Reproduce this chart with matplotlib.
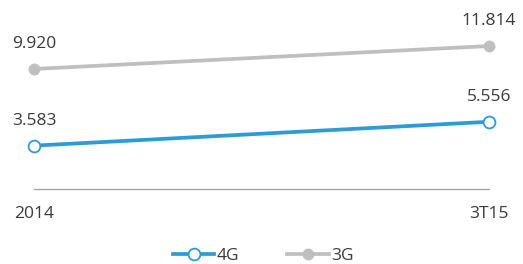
import matplotlib
matplotlib.use("Agg")
import matplotlib.pyplot as plt
from matplotlib.lines import Line2D

categories = ["2014", "3T15"]
series_4g = [3.583, 5.556]
series_3g = [9.920, 11.814]
labels_4g = ["3.583", "5.556"]
labels_3g = ["9.920", "11.814"]

plt.rcParams['font.family'] = ['Open Sans', 'DejaVu Sans']
W, H = 523, 264
fig = plt.figure(figsize=(W/100, H/100), dpi=100)
scale = 12.1
top_px = 189 - 14*scale
ax = fig.add_axes([34/W, 1-189/H, (489-34)/W, (189-top_px)/H])
ax.set_xlim(0, 1)
ax.set_ylim(0, 14)
x = [0, 1]
blue = '#2E9BD6'
gray = '#BFBFBF'
txt = '#3A3A3A'
fs = 12.5

ax.plot(x, series_3g, color=gray, lw=2.7, marker='o', ms=7.5, mfc=gray, mec=gray, clip_on=False, zorder=3, solid_capstyle='butt')
ax.plot(x, series_4g, color=blue, lw=2.7, marker='o', ms=8.5, mfc='white', mec=blue, mew=1.3, clip_on=False, zorder=4, solid_capstyle='butt')

for xi, v, l in zip(x, series_3g, labels_3g):
    ax.annotate(l, (xi, v), xytext=(0, 12), textcoords='offset points', ha='center', va='bottom', fontsize=fs, color=txt)
for xi, v, l in zip(x, series_4g, labels_4g):
    ax.annotate(l, (xi, v), xytext=(0, 12), textcoords='offset points', ha='center', va='bottom', fontsize=fs, color=txt)

for s in ['top', 'right', 'left']:
    ax.spines[s].set_visible(False)
ax.spines['bottom'].set_color('#A6A6A6')
ax.spines['bottom'].set_linewidth(1.0)
ax.set_yticks([])
ax.set_xticks(x)
ax.set_xticklabels(categories, fontsize=fs, color=txt)
ax.tick_params(axis='x', length=0, pad=12)

handles = [Line2D([], [], color=blue, lw=2.7, marker='o', ms=8.5, mfc='white', mec=blue, mew=1.3),
           Line2D([], [], color=gray, lw=2.7, marker='o', ms=7.5, mfc=gray, mec=gray)]
fig.legend(handles, ['4G', '3G'], loc='center', bbox_to_anchor=(263/W, 1-256/H), ncol=2, frameon=False,
           fontsize=fs, labelcolor=txt, handlelength=2.4, handletextpad=0.1, columnspacing=2.8)

fig.savefig('out.png', dpi=100)
